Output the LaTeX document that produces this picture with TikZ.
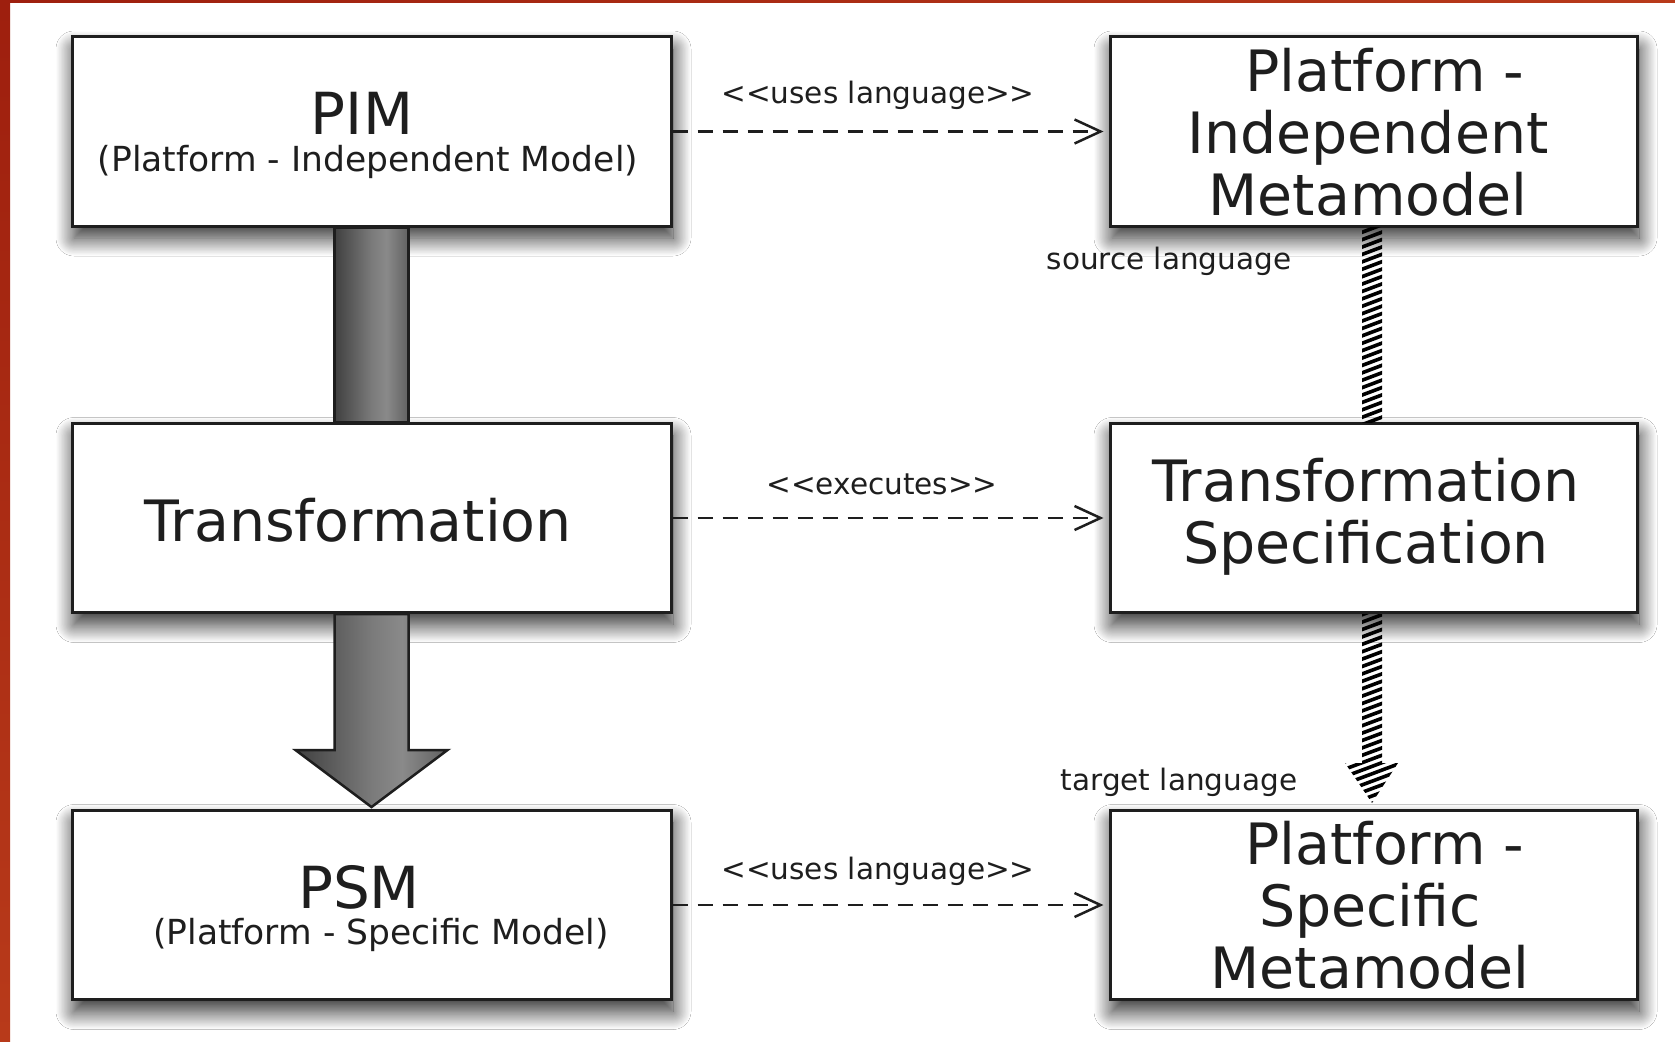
\documentclass[tikz,border=0pt]{standalone}
\usepackage{fontspec}
\setmainfont{DejaVu Sans}
\usetikzlibrary{arrows.meta,shadows.blur,calc}
\pgfdeclarehorizontalshading{grayarrow}{100bp}{color(0bp)=(black!75); color(25bp)=(black!75); color(50bp)=(black!52); color(60bp)=(black!46); color(75bp)=(black!62); color(100bp)=(black!62)}
\definecolor{frameA}{HTML}{9E1F0E}
\definecolor{frameB}{HTML}{B83A1A}
\definecolor{ink}{HTML}{1E1E1E}
\begin{document}
\begin{tikzpicture}[x=1pt,y=-1pt,
  box/.style={draw=ink, line width=3pt, fill=white, inner sep=0pt,
    minimum height=189pt,
    blur shadow={shadow xshift=2pt, shadow yshift=-12pt, shadow blur radius=18pt,
      shadow opacity=85, shadow blur steps=30, shadow blur extra rounding=0pt}},
  lbox/.style={box, minimum width=599pt},
  rbox/.style={box, minimum width=527pt},
  big/.style={font=\fontsize{57}{62}\selectfont, text=ink, inner sep=0pt, align=center},
  huge/.style={font=\fontsize{58}{62}\selectfont, text=ink, inner sep=0pt},
  mid/.style={font=\fontsize{34.5}{40}\selectfont, text=ink, inner sep=0pt},
  small/.style={font=\fontsize{29.5}{34}\selectfont, text=ink, inner sep=0pt},
  dashline/.style={draw=ink, line width=2.2pt, dash pattern=on 15pt off 10pt,
    -{Straight Barb[length=26pt,width=24pt,line width=2.5pt]}, shorten >=5pt},
  stripe/.style={line width=3.6pt, black}
]
\useasboundingbox (0,0) rectangle (1675,1041);
\fill[white] (0,0) rectangle (1675,1041);
\shade[top color=frameA, bottom color=frameB] (0,0) rectangle (10,1041);
\shade[left color=frameA, right color=frameB] (0,0) rectangle (1675,3);

% boxes
\node[lbox] (PIM) at (371.5,131.5) {};
\node[lbox] (TR)  at (371.5,518) {};
\node[lbox] (PSM) at (371.5,905) {};
\node[rbox] (PIMM) at (1373.5,131.5) {};
\node[rbox] (TS)   at (1373.5,518) {};
\node[rbox] (PSMM) at (1373.5,905) {};

% gray transformation arrows
\shade[shading=grayarrow, draw=ink, line width=2.5pt]
  ($(PIM.south)+(-37,0)$) rectangle ($(TR.north)+(37,0)$);
\shade[shading=grayarrow, draw=ink, line width=2.5pt, line join=miter]
  ($(TR.south)+(-37,0)$) -- ($(PSM.north)+(-37,-59)$) -- ($(PSM.north)+(-76,-59)$)
  -- ($(PSM.north)+(0,-2)$) -- ($(PSM.north)+(76,-59)$) -- ($(PSM.north)+(37,-59)$)
  -- ($(TR.south)+(37,0)$) -- cycle;
% hatched arrows
\begin{scope}
  \clip ($(PIMM.south)+(-11.5,0)$) rectangle ($(TS.north)+(8.5,0)$);
  \foreach \k in {0,...,32}
    \draw[stripe] (1350,{222+\k*7.4}) -- (1395,{222+\k*7.4-17});
\end{scope}
\begin{scope}
  \clip ($(TS.south)+(-11.5,0)$) -- ($(PSMM.north)+(-11.5,-46)$) -- ($(PSMM.north)+(-28.5,-46)$)
    -- ($(PSMM.north)+(-1.5,-6)$) -- ($(PSMM.north)+(24.5,-46)$) -- ($(PSMM.north)+(8.5,-46)$)
    -- ($(TS.south)+(8.5,0)$) -- cycle;
  \foreach \k in {0,...,32}
    \draw[stripe] (1335,{610+\k*7.4}) -- (1410,{610+\k*7.4-28});
\end{scope}

% texts
\node[huge] (tPIM) at (362,113) {PIM};
\node[mid] (sPIM) at (368,162) {(Platform - Independent Model)};
\node[big] (tTR) at (358,520) {Transformation};
\node[huge] (tPSM) at (359,887) {PSM};
\node[mid] (sPSM) at (381,935) {(Platform - Specific Model)};
\node[big] (tPIMM) at (1368,132) {\hspace*{34pt}Platform -\\Independent\\Metamodel};
\node[big] (tTS) at (1366,517) {Transformation\\Specification};
\node[big] (tPSMM) at (1370,905) {\hspace*{30pt}Platform -\\Specific\\Metamodel};

% dashed dependencies
\draw[dashline] (PIM.east) -- (PIMM.west);
\draw[dashline] (TR.east) -- (TS.west);
\draw[dashline] (PSM.east) -- (PSMM.west);
\node[small] (l1) at (878,95) {<{}<uses language>{}>};
\node[small] (l2) at (882,484) {<{}<executes>{}>};
\node[small] (l3) at (878,871) {<{}<uses language>{}>};
\node[small] (l4) at (1169,261) {source language};
\node[small] (l5) at (1179,782) {target language};
\end{tikzpicture}
\end{document}
